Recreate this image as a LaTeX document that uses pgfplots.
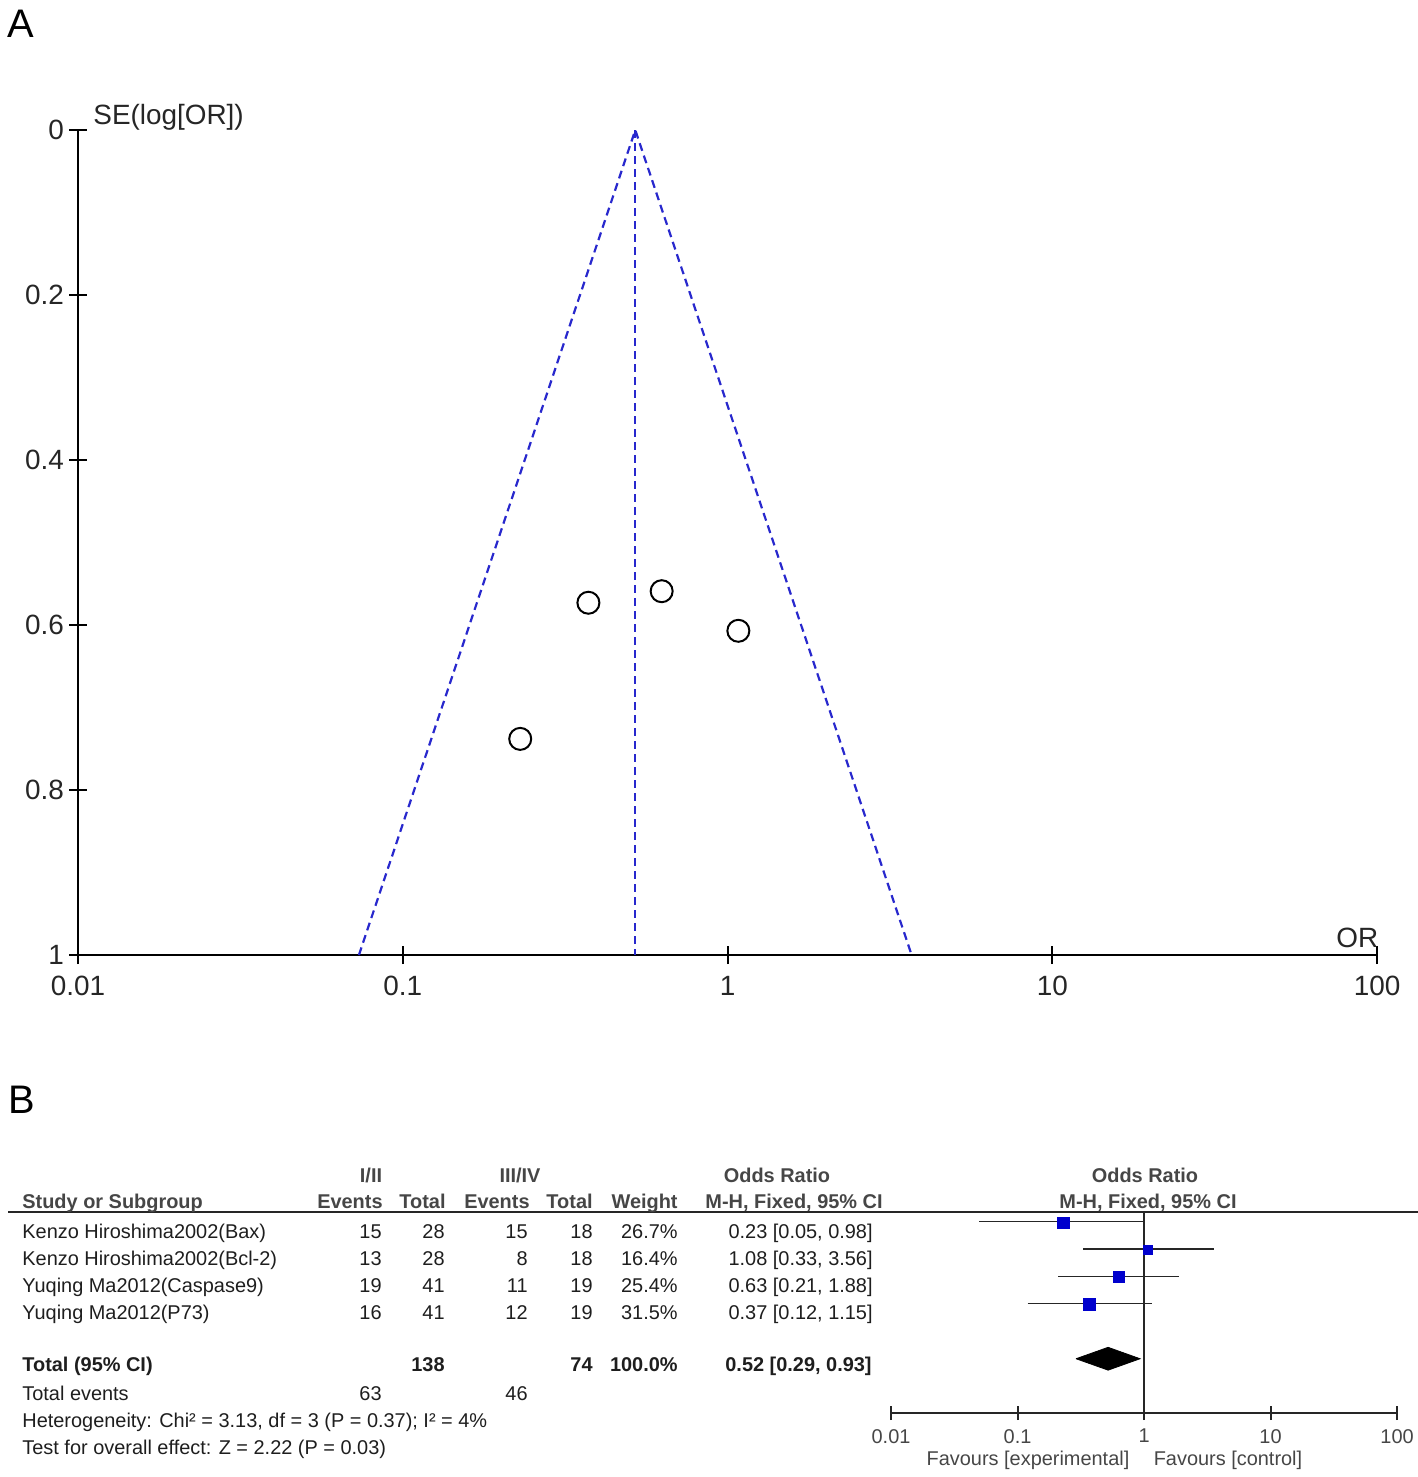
\documentclass[border=0pt]{standalone}
\usepackage{pgfplots}
\pgfplotsset{compat=1.18}
\usepackage{fontspec}
\setmainfont{Liberation Sans}
\definecolor{funblue}{RGB}{40,40,205}
\definecolor{sqblue}{RGB}{0,0,205}
\definecolor{txt}{RGB}{30,30,30}
\definecolor{hdr}{RGB}{70,70,70}
\newcommand{\fA}{\fontsize{14}{16}\selectfont}
\newcommand{\fT}{\fontsize{10}{12}\selectfont}
\begin{document}
\begin{tikzpicture}[x=0.5bp,y=-0.5bp]
\useasboundingbox (0,0) rectangle (1418,1477);
\tikzset{t/.style={font=\fT, text=txt, inner sep=0pt},
         h/.style={font=\fT\bfseries, text=hdr, inner sep=0pt}}
% ---------------- Panel A ----------------
\node[anchor=base west, inner sep=0pt, font=\fontsize{20}{22}\selectfont] at (7,37) {A};
\begin{scope}[x=1cm,y=1cm]
\begin{axis}[
  at={(39bp,-477.5bp)}, anchor=south west,
  scale only axis, width=649.5bp, height=412.5bp,
  xmode=log, xmin=0.01, xmax=100, ymin=-1, ymax=0,
  axis x line=bottom, axis y line=left,
  axis line style={-, line width=1.1bp},
  xtick={0.01,0.1,1,10,100}, xticklabels={0.01,0.1,1,10,100},
  ytick={-1,-0.8,-0.6,-0.4,-0.2,0}, yticklabels={1,0.8,0.6,0.4,0.2,0},
  xminorticks=false,
  tick align=center, major tick length=9bp,
  tick style={line width=1bp, black},
  /pgf/number format/assume math mode=true,
  tick label style={font=\fA, text=black!85},
  xticklabel style={yshift=-2.5bp},
  yticklabel style={xshift=1bp},
  clip=false,
]
\addplot[funblue, line width=1.1bp, dash pattern=on 4bp off 2.5bp] coordinates {(0.0733,-1) (0.52,0) (3.69,-1)};
\addplot[funblue, line width=1.1bp, dash pattern=on 4bp off 2.5bp] coordinates {(0.52,0) (0.52,-1)};
\addplot[only marks, mark=o, mark size=5.5bp, mark options={line width=1bp}, black] coordinates {
  (0.373,-0.573) (0.627,-0.559) (1.08,-0.607) (0.23,-0.738)};
\end{axis}
\end{scope}
\node[anchor=base west, inner sep=0pt, font=\fA, text=black!85] at (93,124) {SE(log[OR])};
\node[anchor=base west, inner sep=0pt, font=\fA, text=black!85] at (1336,947) {OR};
% ---------------- Panel B ----------------
\node[anchor=base west, inner sep=0pt, font=\fontsize{20}{22}\selectfont] at (8,1113) {B};
\draw[line width=1bp, black!85] (8,1212) -- (1418,1212);
% header row 1
\node[h, anchor=base] at (371,1182) {I/II};
\node[h, anchor=base] at (520,1182) {III/IV};
\node[h, anchor=base] at (777,1182) {Odds Ratio};
\node[h, anchor=base] at (1145,1182) {Odds Ratio};
% header row 2
\node[h, anchor=base west] at (22,1208) {Study or Subgroup};
\node[h, anchor=base east] at (383,1208) {Events};
\node[h, anchor=base east] at (446,1208) {Total};
\node[h, anchor=base east] at (530,1208) {Events};
\node[h, anchor=base east] at (593,1208) {Total};
\node[h, anchor=base east] at (678,1208) {Weight};
\node[h, anchor=base east] at (883,1208) {M-H, Fixed, 95\% CI};
\node[h, anchor=base] at (1148,1208) {M-H, Fixed, 95\% CI};
% study rows
\node[t, anchor=base west] at (22,1238) {Kenzo Hiroshima2002(Bax)};
\node[t, anchor=base east] at (382,1238) {15};
\node[t, anchor=base east] at (445,1238) {28};
\node[t, anchor=base east] at (528,1238) {15};
\node[t, anchor=base east] at (593,1238) {18};
\node[t, anchor=base east] at (678,1238) {26.7\%};
\node[t, anchor=base east] at (873,1238) {0.23 [0.05, 0.98]};
\node[t, anchor=base west] at (22,1265) {Kenzo Hiroshima2002(Bcl-2)};
\node[t, anchor=base east] at (382,1265) {13};
\node[t, anchor=base east] at (445,1265) {28};
\node[t, anchor=base east] at (528,1265) {8};
\node[t, anchor=base east] at (593,1265) {18};
\node[t, anchor=base east] at (678,1265) {16.4\%};
\node[t, anchor=base east] at (873,1265) {1.08 [0.33, 3.56]};
\node[t, anchor=base west] at (22,1292) {Yuqing Ma2012(Caspase9)};
\node[t, anchor=base east] at (382,1292) {19};
\node[t, anchor=base east] at (445,1292) {41};
\node[t, anchor=base east] at (528,1292) {11};
\node[t, anchor=base east] at (593,1292) {19};
\node[t, anchor=base east] at (678,1292) {25.4\%};
\node[t, anchor=base east] at (873,1292) {0.63 [0.21, 1.88]};
\node[t, anchor=base west] at (22,1319) {Yuqing Ma2012(P73)};
\node[t, anchor=base east] at (382,1319) {16};
\node[t, anchor=base east] at (445,1319) {41};
\node[t, anchor=base east] at (528,1319) {12};
\node[t, anchor=base east] at (593,1319) {19};
\node[t, anchor=base east] at (678,1319) {31.5\%};
\node[t, anchor=base east] at (873,1319) {0.37 [0.12, 1.15]};
% total
\node[h, text=txt, anchor=base west] at (22,1371) {Total (95\% CI)};
\node[h, text=txt, anchor=base east] at (445,1371) {138};
\node[h, text=txt, anchor=base east] at (593,1371) {74};
\node[h, text=txt, anchor=base east] at (678,1371) {100.0\%};
\node[h, text=txt, anchor=base east] at (872,1371) {0.52 [0.29, 0.93]};
\node[t, anchor=base west] at (22,1400) {Total events};
\node[t, anchor=base east] at (382,1400) {63};
\node[t, anchor=base east] at (528,1400) {46};
\node[t, anchor=base west] at (22,1427) {Heterogeneity: Chi² = 3.13, df = 3 (P = 0.37); I² = 4\%};
\node[t, anchor=base west] at (22,1454) {Test for overall effect: Z = 2.22 (P = 0.03)};
% forest axis
\begin{scope}[x=1cm,y=1cm]
\begin{axis}[
  at={(445.5bp,-706.5bp)}, anchor=south west,
  scale only axis, width=253bp, height=100.5bp,
  xmode=log, xmin=0.01, xmax=100, ymin=0, ymax=7.4,
  axis x line=bottom, axis y line=none,
  axis line style={-, line width=1bp, black!85},
  xtick={0.01,0.1,1,10,100}, xticklabels={0.01,0.1,1,10,100},
  xminorticks=false,
  tick align=center, major tick length=7bp,
  tick style={line width=1bp, black!85},
  /pgf/number format/assume math mode=true,
  tick label style={font=\fT, text=hdr},
  xticklabel style={yshift=-1bp},
  clip=false,
]
\addplot[black!85, line width=1bp] coordinates {(1,0) (1,7.4)};
\addplot[black!85, line width=0.9bp] coordinates {(0.05,7.05) (0.98,7.05)};
\addplot[black!85, line width=0.9bp] coordinates {(0.33,6.03) (3.56,6.03)};
\addplot[black!85, line width=0.9bp] coordinates {(0.21,5.03) (1.88,5.03)};
\addplot[black!85, line width=0.9bp] coordinates {(0.12,4.03) (1.15,4.03)};
\addplot[only marks, mark=square*, mark size=2.8bp, sqblue] coordinates {(0.23,7)};
\addplot[only marks, mark=square*, mark size=2.2bp, sqblue] coordinates {(1.08,6)};
\addplot[only marks, mark=square*, mark size=2.8bp, sqblue] coordinates {(0.63,5)};
\addplot[only marks, mark=square*, mark size=3.1bp, sqblue] coordinates {(0.37,4)};
\addplot[fill=black, draw=black, line join=miter] coordinates {(0.29,2) (0.52,2.42) (0.93,2) (0.52,1.58) (0.29,2)};
\end{axis}
\end{scope}
\node[anchor=base, inner sep=0pt, font=\fT, text=hdr] at (1028,1465) {Favours [experimental]};
\node[anchor=base, inner sep=0pt, font=\fT, text=hdr] at (1228,1465) {Favours [control]};
\end{tikzpicture}
\end{document}
